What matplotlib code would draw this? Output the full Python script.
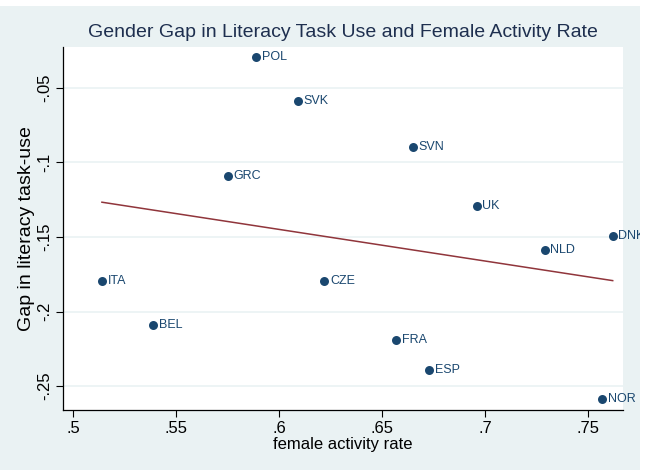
import matplotlib
matplotlib.use('Agg')
import matplotlib.pyplot as plt
from matplotlib.patches import Rectangle
import numpy as np

plt.rcParams['font.family'] = ['Liberation Sans', 'DejaVu Sans']

# country data
countries = ['POL', 'SVK', 'SVN', 'GRC', 'UK', 'DNK', 'NLD', 'ITA', 'CZE', 'BEL', 'FRA', 'ESP', 'NOR']
activity = [0.589, 0.609, 0.665, 0.575, 0.696, 0.762, 0.729, 0.514, 0.622, 0.539, 0.657, 0.673, 0.757]
gap = [-0.029, -0.0587, -0.0896, -0.109, -0.129, -0.149, -0.159, -0.1795, -0.1795, -0.209, -0.219, -0.239, -0.259]

xticks = [0.5, 0.55, 0.6, 0.65, 0.7, 0.75]
xticklabels = ['.5', '.55', '.6', '.65', '.7', '.75']
yticks = [-0.05, -0.1, -0.15, -0.2, -0.25]
yticklabels = ['-.05', '-.1', '-.15', '-.2', '-.25']

navy = '#1a476f'
maroon = '#90353b'
bg = '#eaf2f3'

fig = plt.figure(figsize=(6.46, 4.70), dpi=100, facecolor='white')
# light background panel (white strip on top and right edge)
panel = Rectangle((0, 0), 640 / 646, 464 / 470, transform=fig.transFigure,
                  facecolor=bg, edgecolor='none', zorder=-10)
fig.patches.append(panel)

ax = fig.add_axes([63 / 646, 1 - 410 / 470, 560 / 646, 363 / 470])
ax.set_facecolor('white')

x = np.array(activity)
y = np.array(gap)

# linear fit
b, a = np.polyfit(x, y, 1)
xs = np.array([x.min(), x.max()])
ax.plot(xs, a + b * xs, color=maroon, linewidth=1.1, zorder=2)

ax.scatter(x, y, s=42, color=navy, zorder=3, linewidths=0)
for c, xi, yi in zip(countries, x, y):
    t = ax.annotate(c, (xi, yi), textcoords='offset points', xytext=(4, 0),
                    ha='left', va='center', fontsize=9, color=navy,
                    annotation_clip=False)
    t.set_clip_on(True)
    t.set_clip_path(panel)

ax.set_xlim(0.4951, 0.767)
ax.set_ylim(-0.2661, -0.0225)
ax.set_xticks(xticks)
ax.set_xticklabels(xticklabels, fontsize=12)
ax.set_yticks(yticks)
ax.set_yticklabels(yticklabels, fontsize=12, rotation=90, va='center')
ax.tick_params(direction='out', length=5, width=0.8, color='black', pad=3)

ax.grid(axis='y', color=bg, linewidth=1.2)
ax.set_axisbelow(True)
for s in ['top', 'right']:
    ax.spines[s].set_visible(False)
for s in ['left', 'bottom']:
    ax.spines[s].set_linewidth(0.9)

ax.set_xlabel('female activity rate', fontsize=12, labelpad=1)
ax.set_ylabel('Gap in literacy task-use', fontsize=14, labelpad=1)
ax.set_title('Gender Gap in Literacy Task Use and Female Activity Rate',
             fontsize=14, color='#1e2f4f', pad=7)

fig.savefig('out.png', dpi=100, facecolor='white')
